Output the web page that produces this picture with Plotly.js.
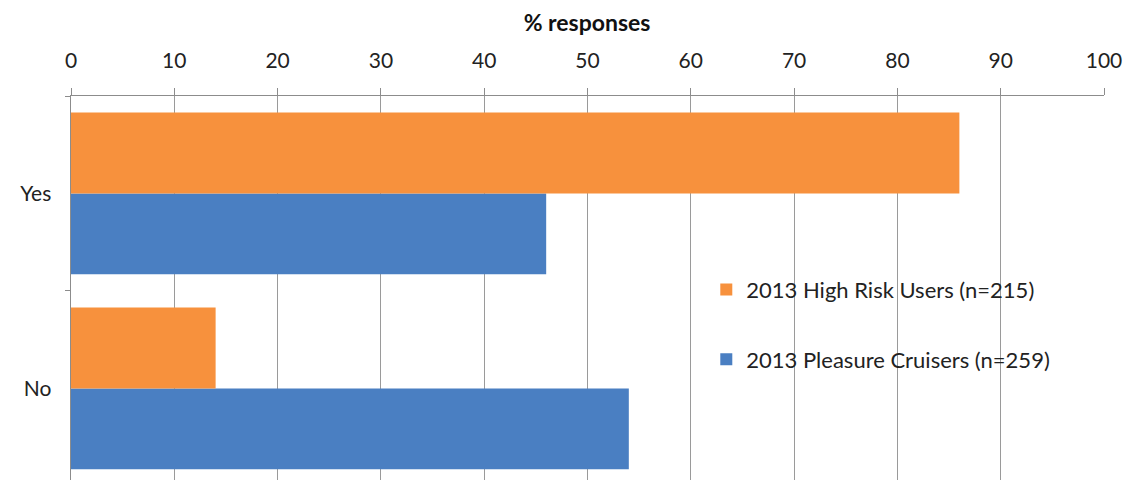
<!DOCTYPE html>
<html>
<head>
<meta charset="utf-8">
<script src="https://cdn.plot.ly/plotly-3.0.1.min.js"></script>
<style>html,body{margin:0;padding:0;background:#fff;}#chart{width:1129px;height:480px;}</style>
</head>
<body>
<div id="chart"></div>
<script>
const categories = ["No", "Yes"];
const highRisk = [14, 86];
const pleasure = [54, 46];
const seriesNames = ["2013 High Risk Users (n=215)", "2013 Pleasure Cruisers (n=259)"];
const xTicks = [0, 10, 20, 30, 40, 50, 60, 70, 80, 90, 100];

const font = "Lato, Open Sans, sans-serif";

const traces = [
  {
    type: "bar", orientation: "h", name: seriesNames[1],
    y: categories, x: pleasure,
    marker: {color: "#4A7FC2"}, legendgroup: "b", legendrank: 2
  },
  {
    type: "bar", orientation: "h", name: seriesNames[0],
    y: categories, x: highRisk,
    marker: {color: "#F7913D"}, legendgroup: "a", legendrank: 1
  }
];

const layout = {
  width: 1129, height: 480,
  margin: {l: 71, r: 25, t: 96, b: 0},
  paper_bgcolor: "#fff", plot_bgcolor: "#fff",
  barmode: "group", bargap: 0.17, bargroupgap: 0,
  font: {family: font, size: 21, color: "#222"},
  title: {text: "<b>% responses</b>", x: 0.52, xanchor: "center", y: 0.953, yanchor: "middle",
          font: {family: font, size: 23, color: "#111"}},
  xaxis: {
    side: "top", range: [0, 100], tickvals: xTicks, ticktext: xTicks.map(String),
    showgrid: true, gridcolor: "#9A9A9A", gridwidth: 1,
    showline: true, linecolor: "#8C8C8C", linewidth: 1.5,
    ticks: "outside", ticklen: 7, tickcolor: "#8C8C8C",
    ticklabelstandoff: 11, zeroline: false,
    tickfont: {family: font, size: 21, color: "#222"}
  },
  yaxis: {
    type: "category", range: [-0.47, 1.5], categoryorder: "array", categoryarray: categories,
    showline: true, linecolor: "#8C8C8C", linewidth: 1.5,
    ticks: "outside", tickson: "boundaries", ticklen: 5, tickcolor: "#8C8C8C",
    showgrid: false, ticklabelstandoff: 14,
    tickfont: {family: font, size: 21, color: "#222"}
  },
  showlegend: true,
  legend: {
    x: 0.615, xanchor: "left", y: 0.55, yanchor: "top",
    traceorder: "grouped", tracegroupgap: 38,
    bgcolor: "rgba(255,255,255,0)", font: {family: font, size: 22, color: "#222"}
  }
};

Plotly.newPlot("chart", traces, layout, {displayModeBar: false, staticPlot: true});
</script>
</body>
</html>
